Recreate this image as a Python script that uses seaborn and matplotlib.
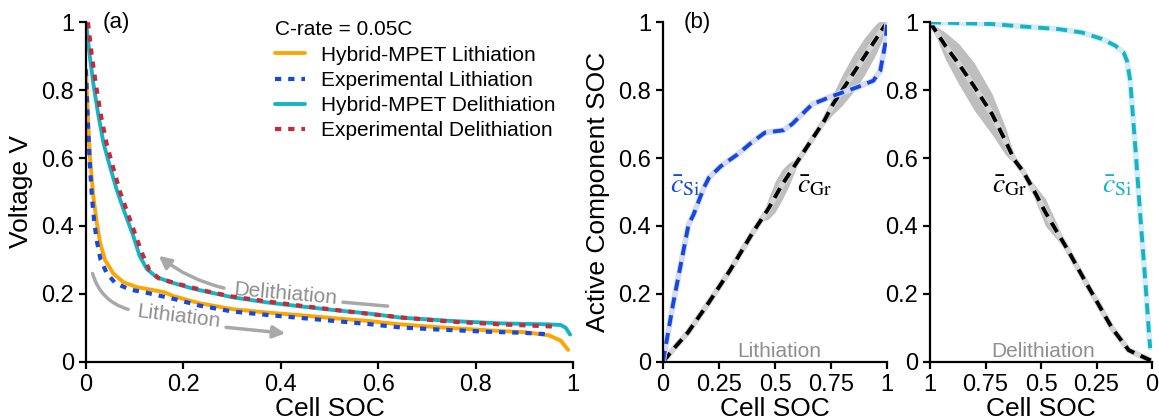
import numpy as np
import pandas as pd
import matplotlib
matplotlib.use("Agg")
import matplotlib.pyplot as plt
import seaborn as sns
from matplotlib.ticker import FuncFormatter

# ---------------- Panel (a): voltage vs cell SOC ----------------
lith_model_soc = [0.0, 0.004, 0.008, 0.015, 0.022, 0.029, 0.039, 0.056, 0.077, 0.104, 0.13, 0.16,
                  0.18, 0.234, 0.30, 0.37, 0.44, 0.51, 0.58, 0.645, 0.72, 0.83, 0.90, 0.95, 0.975, 0.99]
lith_model_v = [0.86, 0.72, 0.605, 0.488, 0.41, 0.35, 0.30, 0.26, 0.234, 0.22, 0.213, 0.205,
                0.193, 0.172, 0.155, 0.145, 0.137, 0.128, 0.12, 0.11, 0.102, 0.092, 0.087, 0.078, 0.062, 0.035]

lith_exp_soc = [0.0, 0.004, 0.008, 0.012, 0.017, 0.023, 0.03, 0.043, 0.06, 0.089, 0.125, 0.18,
                0.234, 0.30, 0.37, 0.44, 0.51, 0.58, 0.645, 0.72, 0.83, 0.90, 0.956]
lith_exp_v = [0.86, 0.70, 0.58, 0.488, 0.41, 0.35, 0.30, 0.26, 0.232, 0.213, 0.203, 0.185,
              0.165, 0.148, 0.138, 0.129, 0.12, 0.111, 0.101, 0.095, 0.088, 0.085, 0.08]

delith_model_soc = [0.0, 0.004, 0.008, 0.015, 0.025, 0.036, 0.049, 0.063, 0.077, 0.097, 0.11, 0.125,
                    0.145, 0.179, 0.22, 0.30, 0.37, 0.44, 0.51, 0.58, 0.645, 0.75, 0.85, 0.95, 0.975,
                    0.985, 0.994]
delith_model_v = [1.0, 0.95, 0.898, 0.82, 0.73, 0.644, 0.576, 0.507, 0.449, 0.371, 0.312, 0.273,
                  0.249, 0.232, 0.215, 0.19, 0.175, 0.163, 0.152, 0.142, 0.13, 0.12, 0.113, 0.11,
                  0.108, 0.1, 0.08]

delith_exp_soc = [0.004, 0.008, 0.012, 0.02, 0.03, 0.042, 0.055, 0.07, 0.085, 0.1, 0.115, 0.13,
                  0.15, 0.2, 0.25, 0.3, 0.37, 0.44, 0.51, 0.58, 0.65, 0.75, 0.85, 0.92, 0.97]
delith_exp_v = [1.0, 0.95, 0.9, 0.82, 0.73, 0.644, 0.576, 0.5, 0.44, 0.38, 0.32, 0.27,
                0.245, 0.225, 0.207, 0.192, 0.178, 0.165, 0.153, 0.141, 0.13, 0.118, 0.11, 0.106, 0.103]

legend_labels = ["Hybrid-MPET Lithiation", "Experimental Lithiation",
                 "Hybrid-MPET Delithiation", "Experimental Delithiation"]
legend_title = "C-rate = 0.05C"

# ---------------- Panel (b): lithiation, active component SOC ----------------
b_si_soc = [0.0, 0.045, 0.114, 0.136, 0.182, 0.205, 0.258, 0.333, 0.394, 0.455, 0.538, 0.576,
            0.667, 0.758, 0.864, 0.939, 0.97, 0.992, 1.0]
b_si_val = [0.0, 0.17, 0.404, 0.433, 0.512, 0.542, 0.576, 0.611, 0.645, 0.675, 0.682, 0.70,
            0.759, 0.783, 0.808, 0.828, 0.857, 0.936, 0.995]

b_gr_soc = [0.0, 0.05, 0.11, 0.2, 0.3, 0.4, 0.44, 0.47, 0.5, 0.53, 0.56, 0.6, 0.65, 0.72, 0.76,
            0.8, 0.85, 0.9, 0.95, 0.98, 1.0]
b_gr_val = [0.0, 0.04, 0.085, 0.17, 0.27, 0.38, 0.42, 0.45, 0.485, 0.52, 0.55, 0.59, 0.64, 0.71,
            0.76, 0.80, 0.85, 0.90, 0.95, 0.98, 1.0]
b_gr_spread = [0.0, 0.0, 0.0, 0.0, 0.0, 0.0, 0.005, 0.03, 0.045, 0.045, 0.035, 0.01, 0.003, 0.01,
               0.03, 0.045, 0.055, 0.055, 0.045, 0.03, 0.0]

# ---------------- Panel (c): delithiation, active component SOC ----------------
c_si_soc = [1.0, 0.722, 0.571, 0.421, 0.316, 0.226, 0.165, 0.128, 0.113, 0.098, 0.075, 0.053,
            0.03, 0.012, 0.008]
c_si_val = [1.0, 0.995, 0.987, 0.98, 0.97, 0.951, 0.931, 0.911, 0.887, 0.828, 0.631, 0.433,
            0.236, 0.07, 0.04]

c_gr_soc = [1.0, 0.93, 0.87, 0.8, 0.72, 0.66, 0.62, 0.58, 0.53, 0.48, 0.42, 0.38, 0.3, 0.18,
            0.105, 0.06, 0.0]
c_gr_val = [1.0, 0.93, 0.877, 0.81, 0.729, 0.65, 0.595, 0.56, 0.502, 0.44, 0.374, 0.33, 0.236,
            0.099, 0.034, 0.02, 0.002]
c_gr_spread = [0.0, 0.04, 0.06, 0.07, 0.06, 0.04, 0.012, 0.005, 0.02, 0.04, 0.02, 0.005, 0.0,
               0.0, 0.0, 0.0, 0.0]

# ---------------- Style ----------------
sns.set_theme(style="ticks")
plt.rcParams['font.family'] = ['Liberation Sans', 'DejaVu Sans']
plt.rcParams.update({
    'mathtext.fontset': 'stix',
    'lines.scale_dashes': False,
    'axes.edgecolor': 'black',
    'axes.linewidth': 1.6,
    'xtick.color': 'black',
    'ytick.color': 'black',
    'xtick.major.width': 1.6,
    'ytick.major.width': 1.6,
    'xtick.major.size': 5,
    'ytick.major.size': 5,
    'xtick.labelsize': 17,
    'ytick.labelsize': 17,
    'axes.labelsize': 19,
    'text.color': 'black',
    'axes.labelcolor': 'black',
})

ORANGE = "#FFA500"
BLUE = "#1448E0"
CYAN = "#14B4C8"
RED = "#C42A38"
GRAY_ARROW = "#A8A8A8"
GRAY_TEXT = "#8E8E8E"

W, H = 1159, 420
fig = plt.figure(figsize=(W / 100, H / 100), dpi=100)
bot = 1 - 361.7 / H
hgt = 339.4 / H
ax_a = fig.add_axes([86 / W, bot, 487 / W, hgt])
ax_b = fig.add_axes([663 / W, bot, 224 / W, hgt])
ax_c = fig.add_axes([930 / W, bot, 222 / W, hgt])

fmt = FuncFormatter(lambda v, p: f"{v:g}")


def line(ax, x, y, **kw):
    sns.lineplot(x=x, y=y, ax=ax, sort=False, estimator=None, **kw)
    return ax.lines[-1]


# ---- Panel (a)
line(ax_a, lith_model_soc, lith_model_v, color=ORANGE, lw=2.8, label=legend_labels[0])
line(ax_a, lith_exp_soc, lith_exp_v, color=BLUE, lw=3.0, linestyle=(0, (4.5, 5)),
     label=legend_labels[1])
line(ax_a, delith_model_soc, delith_model_v, color=CYAN, lw=2.8, label=legend_labels[2])
line(ax_a, delith_exp_soc, delith_exp_v, color=RED, lw=3.0, linestyle=(0, (4.5, 5)),
     label=legend_labels[3])

ax_a.set_xlim(0, 1)
ax_a.set_ylim(0, 1)
ax_a.set_xticks(np.linspace(0, 1, 6))
ax_a.set_yticks(np.linspace(0, 1, 6))
ax_a.xaxis.set_major_formatter(fmt)
ax_a.yaxis.set_major_formatter(fmt)
ax_a.set_xlabel("Cell SOC", labelpad=1)
ax_a.set_ylabel("Voltage V", labelpad=6)
ax_a.text(0.035, 1.0, "(a)", fontsize=16, ha="left", va="center", transform=ax_a.transAxes)

h, l = ax_a.get_legend_handles_labels()
leg = ax_a.legend(h, l, title=legend_title, loc="upper left", bbox_to_anchor=(0.37, 1.03),
                  frameon=False, fontsize=15, title_fontsize=15, handlelength=1.45,
                  handletextpad=0.8, labelspacing=0.3, alignment="left", borderaxespad=0)

# arrows and labels in (a)
arrow_kw = dict(color=GRAY_ARROW, lw=2.5)
ax_a.annotate("", xy=(0.092, 0.152), xytext=(0.012, 0.268),
              arrowprops=dict(arrowstyle="-", connectionstyle="arc3,rad=0.3", **arrow_kw))
ax_a.text(0.19, 0.132, "Lithiation", fontsize=15, color=GRAY_TEXT, rotation=-7,
          ha="center", va="center", rotation_mode="anchor")
ax_a.annotate("", xy=(0.415, 0.083), xytext=(0.282, 0.102),
              arrowprops=dict(arrowstyle="-|>,head_length=0.6,head_width=0.3", **arrow_kw))
ax_a.annotate("", xy=(0.145, 0.317), xytext=(0.289, 0.215),
              arrowprops=dict(arrowstyle="-|>,head_length=0.6,head_width=0.3",
                              connectionstyle="arc3,rad=-0.12", **arrow_kw))
ax_a.text(0.41, 0.198, "Delithiation", fontsize=15, color=GRAY_TEXT, rotation=-5,
          ha="center", va="center", rotation_mode="anchor")
ax_a.annotate("", xy=(0.625, 0.163), xytext=(0.522, 0.176),
              arrowprops=dict(arrowstyle="-", **arrow_kw))


def comp_panel(ax, si_x, si_y, si_col, si_under, gr_x, gr_y, gr_sp):
    gx = np.array(gr_x)
    gy = np.array(gr_y)
    gs = np.array(gr_sp)
    ax.fill_between(gx, gy - gs, gy + gs, color="#A9A9A9", alpha=0.75, lw=0)
    line(ax, gr_x, gr_y, color="#D4D4D4", lw=4.2)
    line(ax, gr_x, gr_y, color="black", lw=2.8, linestyle=(0, (8, 5)))
    line(ax, si_x, si_y, color=si_under, lw=4.2)
    line(ax, si_x, si_y, color=si_col, lw=2.8, linestyle=(0, (8, 5)))
    ax.set_ylim(0, 1)
    ax.set_xticks([0, 0.25, 0.5, 0.75, 1])
    ax.set_yticks(np.linspace(0, 1, 6))
    ax.xaxis.set_major_formatter(fmt)
    ax.yaxis.set_major_formatter(fmt)
    ax.set_xlabel("Cell SOC", labelpad=1)


# ---- Panel (b)
comp_panel(ax_b, b_si_soc, b_si_val, BLUE, "#D6DAF4", b_gr_soc, b_gr_val, b_gr_spread)
ax_b.set_xlim(0, 1)
ax_b.set_ylabel("Active Component SOC", labelpad=6)
ax_b.text(0.09, 1.0, "(b)", fontsize=16, ha="left", va="center", transform=ax_b.transAxes)
ax_b.text(0.03, 0.52, r"$\bar{c}_{\mathrm{Si}}$", fontsize=20, color=BLUE, ha="left", va="center")
ax_b.text(0.6, 0.52, r"$\bar{c}_{\mathrm{Gr}}$", fontsize=20, color="black", ha="left", va="center")
ax_b.text(0.52, 0.03, "Lithiation", fontsize=15, color=GRAY_TEXT, ha="center", va="center")

# ---- Panel (c)
comp_panel(ax_c, c_si_soc, c_si_val, CYAN, "#D3EEF2", c_gr_soc, c_gr_val, c_gr_spread)
ax_c.set_xlim(1, 0)
ax_c.set_ylabel("")
ax_c.text(0.72, 0.52, r"$\bar{c}_{\mathrm{Gr}}$", fontsize=20, color="black", ha="left", va="center")
ax_c.text(0.225, 0.52, r"$\bar{c}_{\mathrm{Si}}$", fontsize=20, color=CYAN, ha="left", va="center")
ax_c.text(0.49, 0.03, "Delithiation", fontsize=15, color=GRAY_TEXT, ha="center", va="center")

for ax in (ax_a, ax_b, ax_c):
    sns.despine(ax=ax)
    if ax is not ax_a and ax.get_legend() is not None:
        ax.get_legend().remove()

fig.savefig("out.png", dpi=100)
